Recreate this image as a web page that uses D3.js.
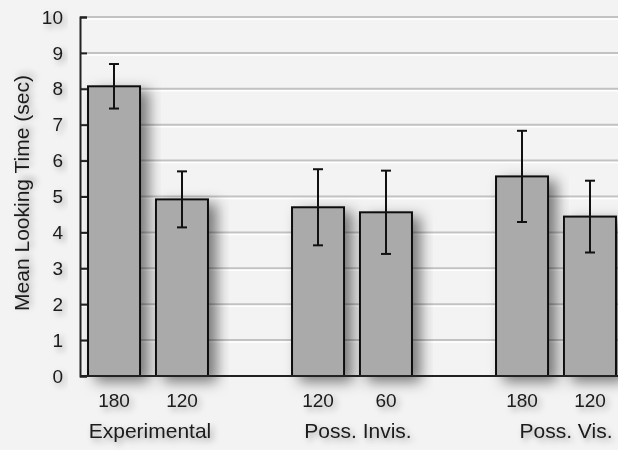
<!DOCTYPE html>
<html>
<head>
<meta charset="utf-8">
<script src="https://cdn.jsdelivr.net/npm/d3@7"></script>
<style>
  body { margin: 0; background: #f3f3f3; }
  svg { display: block; font-family: "Liberation Sans", Arial, sans-serif; }
</style>
</head>
<body>
<div id="chart"></div>
<script>
/**
 * DATA
 * */
const groups = ["Experimental", "Poss. Invis.", "Poss. Vis."];
const conditions = ["180", "120", "120", "60", "180", "120"];
const groupOf = [0, 0, 1, 1, 2, 2];
const means = [8.07, 4.92, 4.70, 4.56, 5.56, 4.44];
const errs = [0.62, 0.78, 1.06, 1.16, 1.27, 1.00];
const yTicks = [0, 1, 2, 3, 4, 5, 6, 7, 8, 9, 10];

/**
 * CONSTANTS
 * */
const width = 618,
  height = 450,
  margin = { top: 17, bottom: 74, left: 80, right: 0 },
  barColor = "#aaaaaa",
  textColor = "#1a1a1a";

const svg = d3.select("#chart")
  .append("svg")
  .attr("width", width)
  .attr("height", height);

const defs = svg.append("defs");
defs.append("filter")
  .attr("id", "shadow")
  .attr("x", "-30%").attr("y", "-30%").attr("width", "170%").attr("height", "160%")
  .append("feDropShadow")
  .attr("dx", 8).attr("dy", 5).attr("stdDeviation", 7)
  .attr("flood-color", "#000").attr("flood-opacity", 0.5);
defs.append("filter")
  .attr("id", "textShadow")
  .attr("x", "-20%").attr("y", "-40%").attr("width", "140%").attr("height", "180%")
  .append("feDropShadow")
  .attr("dx", 3).attr("dy", 3).attr("stdDeviation", 3)
  .attr("flood-color", "#000").attr("flood-opacity", 0.35);

// group scale then bars inside each group (2 bars + empty slot)
const x0 = d3.scaleBand()
  .domain(d3.range(groups.length))
  .range([margin.left, margin.left + 3 * 204]);
const x1 = d3.scaleBand()
  .domain([0, 1])
  .range([0, x0.bandwidth() * 2 / 3])
  .paddingInner(0.235)
  .paddingOuter(0.118);

const y = d3.scaleLinear()
  .domain([0, 10])
  .range([height - margin.bottom, margin.top]);

const barX = i => x0(groupOf[i]) + x1(i % 2);

// gridlines
const grid = svg.append("g");
grid.selectAll("line.g")
  .data(yTicks.slice(1))
  .join("line")
  .attr("class", "g")
  .attr("x1", margin.left).attr("x2", width)
  .attr("y1", d => y(d)).attr("y2", d => y(d))
  .attr("stroke", "#c2c2c2").attr("stroke-width", 2);
grid.selectAll("line.h")
  .data(yTicks.slice(1))
  .join("line")
  .attr("class", "h")
  .attr("x1", margin.left).attr("x2", width)
  .attr("y1", d => y(d) + 2).attr("y2", d => y(d) + 2)
  .attr("stroke", "#ffffff").attr("stroke-width", 1.5);

// bars
svg.append("g")
  .selectAll("rect")
  .data(means)
  .join("rect")
  .attr("x", (d, i) => barX(i))
  .attr("y", d => y(d))
  .attr("width", x1.bandwidth())
  .attr("height", d => y(0) - y(d))
  .attr("fill", barColor)
  .attr("stroke", "#111")
  .attr("stroke-width", 2)
  .attr("filter", "url(#shadow)");

// error bars
const eb = svg.append("g")
  .attr("stroke", "#111")
  .attr("stroke-width", 2);
means.forEach((m, i) => {
  const cx = barX(i) + x1.bandwidth() / 2;
  eb.append("line")
    .attr("x1", cx).attr("x2", cx)
    .attr("y1", y(m + errs[i])).attr("y2", y(m - errs[i]));
  [m + errs[i], m - errs[i]].forEach(v => {
    eb.append("line")
      .attr("x1", cx - 5).attr("x2", cx + 5)
      .attr("y1", y(v)).attr("y2", y(v));
  });
});

// y axis
const yAxis = svg.append("g")
  .attr("transform", `translate(${margin.left},0)`)
  .call(d3.axisRight(y).tickValues(yTicks).tickSize(7).tickFormat(""));
yAxis.select(".domain").attr("stroke", "#222").attr("stroke-width", 2);
yAxis.selectAll(".tick line").attr("stroke", "#222").attr("stroke-width", 2);

svg.append("g")
  .attr("filter", "url(#textShadow)")
  .selectAll("text")
  .data(yTicks)
  .join("text")
  .attr("x", margin.left - 17)
  .attr("y", d => y(d))
  .attr("dy", "0.35em")
  .attr("text-anchor", "end")
  .attr("font-size", 19)
  .attr("fill", textColor)
  .text(d => d);

// x axis baseline
svg.append("line")
  .attr("x1", margin.left).attr("x2", width)
  .attr("y1", y(0)).attr("y2", y(0))
  .attr("stroke", "#222").attr("stroke-width", 2);

// condition labels
svg.append("g")
  .attr("filter", "url(#textShadow)")
  .selectAll("text")
  .data(conditions)
  .join("text")
  .attr("x", (d, i) => barX(i) + x1.bandwidth() / 2)
  .attr("y", 400)
  .attr("dy", "0.35em")
  .attr("text-anchor", "middle")
  .attr("font-size", 19)
  .attr("fill", textColor)
  .text(d => d);

// group labels
svg.append("g")
  .attr("filter", "url(#textShadow)")
  .selectAll("text")
  .data(groups)
  .join("text")
  .attr("x", (d, i) => x0(i) + x1.range()[1] / 2 + 2 + 4 * i)
  .attr("y", 431)
  .attr("dy", "0.35em")
  .attr("text-anchor", "middle")
  .attr("font-size", 21)
  .attr("fill", textColor)
  .text(d => d);

// y label
svg.append("text")
  .attr("filter", "url(#textShadow)")
  .attr("transform", "translate(22,193) rotate(-90)")
  .attr("dy", "0.35em")
  .attr("text-anchor", "middle")
  .attr("font-size", 21)
  .attr("fill", textColor)
  .text("Mean Looking Time (sec)");
</script>
</body>
</html>
